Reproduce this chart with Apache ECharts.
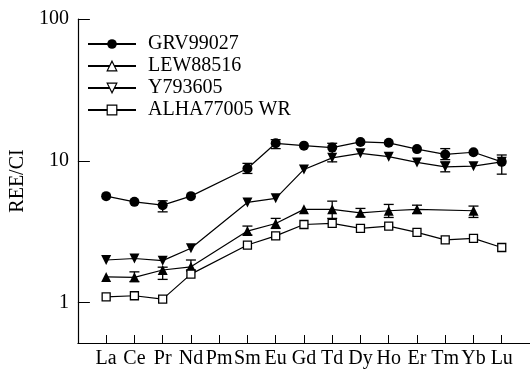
<!DOCTYPE html>
<html>
<head>
<meta charset="utf-8">
<script src="https://cdn.jsdelivr.net/npm/echarts@6/dist/echarts.min.js"></script>
<style>
html, body { margin: 0; padding: 0; background: #fff; }
#main { width: 530px; height: 372px; }
</style>
</head>
<body>
<div id="main"></div>
<script>
// REE elements (Pm has no data)
var elements = ['La', 'Ce', 'Pr', 'Nd', 'Pm', 'Sm', 'Eu', 'Gd', 'Td', 'Dy', 'Ho', 'Er', 'Tm', 'Yb', 'Lu'];

var grv99027 = [5.64, 5.14, 4.87, 5.64, null, 8.84, 13.3, 12.8, 12.4, 13.6, 13.4, 12.1, 11.1, 11.5, 9.84];
var lew88516 = [1.52, 1.51, 1.70, 1.79, null, 3.2, 3.62, 4.55, 4.55, 4.3, 4.45, 4.55, null, 4.45, null];
var y793605 = [2.0, 2.05, 1.98, 2.42, null, 5.09, 5.44, 8.7, 10.5, 11.3, 10.7, 9.75, 9.07, 9.18, 9.84];
var alha77005 = [1.10, 1.12, 1.06, 1.59, null, 2.55, 2.96, 3.56, 3.62, 3.34, 3.47, 3.13, 2.77, 2.84, 2.45];

// error bars: element position (1-based), low, high
var errPos  = [3, 2, 3, 4, 6, 7, 9, 10, 11, 12, 14, 9, 13, 13, 15, 7, 6];
var errLow  = [4.37, 1.41, 1.46, 1.70, 3.0, 3.34, 3.93, 4.03, 3.99, 4.26, 3.99, 9.84, 10.2, 8.37, 8.06, 12.2, 8.15];
var errHigh = [5.23, 1.65, 1.78, 2.0, 3.47, 3.93, 5.2, 4.62, 4.93, 4.87, 4.8, 13.3, 12.2, 9.84, 11.0, 14.1, 9.6];

var yTicks = [1, 10, 100];
var xTicks = [1, 2, 3, 4, 5, 6, 7, 8, 9, 10, 11, 12, 13, 14, 15];

function toPairs(arr) {
    return arr.map(function (v, i) { return [i + 1, v]; });
}

var errData = errPos.map(function (p, i) { return [p, errLow[i], errHigh[i]]; });

var font = 'Liberation Serif';
var myChart = echarts.init(document.getElementById('main'));

var lineBase = {
    type: 'line',
    connectNulls: true,
    lineStyle: { color: '#000', width: 1.2 },
    z: 3
};

var option = {
    animation: false,
    backgroundColor: '#fff',
    grid: { left: 75, right: 0, top: 19, bottom: 29 },
    legend: {
        orient: 'vertical',
        left: 87,
        top: 34,
        padding: 0,
        itemWidth: 48,
        itemHeight: 12,
        itemGap: 2,
        textStyle: { fontFamily: font, fontSize: 20, color: '#000', padding: [0, 0, 0, 7] },
        data: [
            { name: 'GRV99027' },
            { name: 'LEW88516', itemStyle: { color: '#fff', borderColor: '#000', borderWidth: 1.2 } },
            { name: 'Y793605', itemStyle: { color: '#fff', borderColor: '#000', borderWidth: 1.2 } },
            { name: 'ALHA77005 WR', itemStyle: { color: '#fff', borderColor: '#000', borderWidth: 1.2 } }
        ]
    },
    xAxis: {
        type: 'value',
        min: 0,
        max: 16,
        interval: 1,
        splitLine: { show: false },
        axisLine: { lineStyle: { color: '#000', width: 1.2 } },
        axisTick: { inside: true, length: 8, customValues: xTicks, lineStyle: { color: '#000' } },
        axisLabel: {
            customValues: xTicks,
            margin: 6,
            fontFamily: font,
            fontSize: 20,
            color: '#000',
            formatter: function (v) { return elements[v - 1] || ''; }
        }
    },
    yAxis: {
        type: 'log',
        logBase: 10,
        min: 0.52,
        max: 100,
        name: 'REE/CI',
        nameLocation: 'middle',
        nameGap: 46,
        nameTextStyle: { fontFamily: font, fontSize: 20, color: '#000' },
        splitLine: { show: false },
        axisLine: { show: true, lineStyle: { color: '#000', width: 1.2 } },
        axisTick: { inside: true, length: 12, customValues: yTicks, lineStyle: { color: '#000' } },
        axisLabel: {
            customValues: yTicks,
            margin: 9,
            fontFamily: font,
            fontSize: 20,
            color: '#000'
        }
    },
    series: [
        {
            type: 'custom',
            name: 'err',
            z: 2,
            data: errData,
            renderItem: function (params, api) {
                var x = api.value(0);
                var lo = api.coord([x, api.value(1)]);
                var hi = api.coord([x, api.value(2)]);
                var w = 5;
                var st = { stroke: '#000', lineWidth: 1.3 };
                return {
                    type: 'group',
                    children: [
                        { type: 'line', shape: { x1: lo[0], y1: lo[1], x2: hi[0], y2: hi[1] }, style: st },
                        { type: 'line', shape: { x1: lo[0] - w, y1: lo[1], x2: lo[0] + w, y2: lo[1] }, style: st },
                        { type: 'line', shape: { x1: hi[0] - w, y1: hi[1], x2: hi[0] + w, y2: hi[1] }, style: st }
                    ]
                };
            }
        },
        Object.assign({}, lineBase, {
            name: 'GRV99027',
            data: toPairs(grv99027),
            symbol: 'circle',
            symbolSize: 10,
            itemStyle: { color: '#000' }
        }),
        Object.assign({}, lineBase, {
            name: 'LEW88516',
            data: toPairs(lew88516),
            symbol: 'triangle',
            symbolSize: 10,
            itemStyle: { color: '#000' }
        }),
        Object.assign({}, lineBase, {
            name: 'Y793605',
            data: toPairs(y793605),
            symbol: 'triangle',
            symbolRotate: 180,
            symbolSize: 10,
            itemStyle: { color: '#000' }
        }),
        Object.assign({}, lineBase, {
            name: 'ALHA77005 WR',
            data: toPairs(alha77005),
            symbol: 'rect',
            symbolSize: 8,
            itemStyle: { color: '#fff', borderColor: '#000', borderWidth: 1.3 }
        })
    ]
};

myChart.setOption(option);
</script>
</body>
</html>
